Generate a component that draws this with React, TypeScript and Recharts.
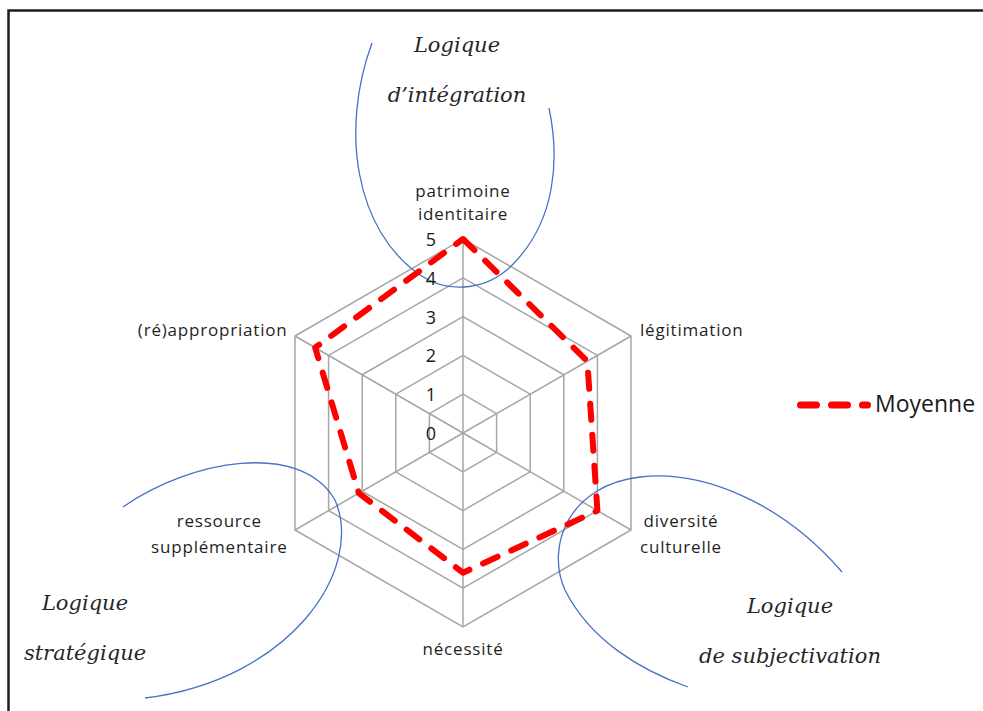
import { RadarChart, PolarGrid, PolarAngleAxis, PolarRadiusAxis, Radar, Legend, Customized } from "recharts"

// axes of the radar, clockwise from the top ("\n" = line break in the label)
const categories = [
  "patrimoine\nidentitaire",
  "légitimation",
  "diversité\nculturelle",
  "nécessité",
  "ressource\nsupplémentaire",
  "(ré)appropriation",
]
const moyenne = [5, 3.7, 4.0, 3.6, 3.1, 4.4]
const radiusTicks = [0, 1, 2, 3, 4, 5]
const seriesName = "Moyenne"

// the three hand-drawn "logique" annotations
const logiqueIntegration = ["Logique", "d’intégration"]
const logiqueStrategique = ["Logique", "stratégique"]
const logiqueSubjectivation = ["Logique", "de subjectivation"]

const data = categories.map((axe, i) => ({ axe, moyenne: moyenne[i] }))

const CX = 463
const CY = 433
const R = 194
const RED = "#ff0000"
const BLUE = "#4472c4"
const LABEL_FONT = "'Open Sans', sans-serif"
const LABEL_SIZE = 17
const LABEL_SPACING = 0.8
const SERIF = "'DejaVu Serif', serif"

let ctx: CanvasRenderingContext2D | null = null
function textWidth(s: string) {
  if (!ctx) ctx = document.createElement("canvas").getContext("2d")
  if (!ctx) return s.length * 9
  ctx.font = `${LABEL_SIZE}px 'Open Sans'`
  return ctx.measureText(s).width + LABEL_SPACING * s.length
}

function AngleTick(props: any) {
  const { x, y, payload } = props
  const lines = String(payload.value).split("\n")
  const a = Math.atan2(-(y - CY), x - CX)
  const cos = Math.cos(a)
  const vx = CX + R * cos
  const vy = CY - R * Math.sin(a)
  let tx = vx
  let y0: number
  let lh = 26
  if (Math.abs(cos) < 0.05) {
    lh = 23.5
    y0 = Math.sin(a) > 0 ? vy - 19 - (lines.length - 1) * lh : vy + 28
  } else {
    const w = Math.max(...lines.map(textWidth))
    tx = cos > 0 ? vx + 9 + w / 2 : vx - 7.5 - w / 2
    y0 = lines.length > 1 ? vy - 3 : vy
  }
  return (
    <text
      x={tx}
      textAnchor="middle"
      fontFamily={LABEL_FONT}
      fontSize={LABEL_SIZE}
      letterSpacing={LABEL_SPACING}
      fill="#1f1f1f"
    >
      {lines.map((l, i) => (
        <tspan key={i} x={tx} y={y0 + i * lh}>
          {l}
        </tspan>
      ))}
    </text>
  )
}

function RadiusTick(props: any) {
  const { x, y, payload } = props
  return (
    <text x={x - 27} y={y + 7} textAnchor="end" fontFamily={LABEL_FONT} fontSize={18} fill="#1a1a1a">
      {payload.value}
    </text>
  )
}

function LegendBox() {
  return (
    <svg width={190} height={36}>
      <line
        x1={11.5}
        y1={17}
        x2={79}
        y2={17}
        stroke={RED}
        strokeWidth={7}
        strokeLinecap="round"
        strokeDasharray="16 15 16 15 5 200"
      />
      <text x={86} y={24} fontFamily={LABEL_FONT} fontSize={23} fill="#1a1a1a">
        {seriesName}
      </text>
    </svg>
  )
}

function Italic({ lines, x, y, gap }: { lines: string[]; x: number; y: number; gap: number }) {
  return (
    <text x={x} textAnchor="middle" fontFamily={SERIF} fontStyle="italic" fontSize={21} fill="#262626">
      {lines.map((l, i) => (
        <tspan key={i} x={x} y={y + i * gap}>
          {l}
        </tspan>
      ))}
    </text>
  )
}

function Decorations() {
  return (
    <g>
      <path d="M 8.5 711 L 8.5 10.5 L 983 10.5" fill="none" stroke="#1e1e1e" strokeWidth={2.5} />
      <g fill="none" stroke={BLUE} strokeWidth={1.3}>
        <path d="M 372 43 C 340 130, 355 230, 420 275 C 450 295, 490 290, 515 262 C 555 220, 560 160, 549 108" />
        <path d="M 123 507 C 190 460, 300 440, 335 500 C 365 570, 290 680, 145 698" />
        <path d="M 842 572 C 780 500, 700 470, 640 477 C 570 485, 545 545, 565 590 C 590 640, 640 670, 688 687" />
      </g>
      <Italic lines={logiqueIntegration} x={457} y={52} gap={50} />
      <Italic lines={logiqueStrategique} x={85} y={610} gap={50} />
      <Italic lines={logiqueSubjectivation} x={790} y={613} gap={50} />
    </g>
  )
}

export default function App() {
  return (
    <div style={{ position: "absolute", left: 0, top: 0, width: 983, height: 711, background: "#fff" }}>
      <RadarChart
        width={983}
        height={711}
        data={data}
        cx={CX}
        cy={CY}
        outerRadius={R}
        margin={{ top: 0, right: 0, bottom: 0, left: 0 }}
      >
        <PolarGrid gridType="polygon" stroke="#a6a6a6" strokeWidth={1.5} />
        <PolarAngleAxis dataKey="axe" tick={<AngleTick />} axisLine={false} tickLine={false} />
        <PolarRadiusAxis
          angle={90}
          domain={[0, 5]}
          ticks={radiusTicks as any}
          tickCount={6}
          axisLine={false}
          tickLine={false}
          tick={<RadiusTick />}
        />
        <Radar
          name={seriesName}
          dataKey="moyenne"
          stroke={RED}
          strokeWidth={6}
          strokeDasharray="16 15"
          strokeLinecap="round"
          strokeLinejoin="round"
          fill="none"
          fillOpacity={0}
          dot={false}
          isAnimationActive={false}
        />
        <Legend content={() => <LegendBox />} wrapperStyle={{ left: 789, top: 388, width: 190, height: 36 }} />
        <Customized component={<Decorations />} />
      </RadarChart>
    </div>
  )
}
